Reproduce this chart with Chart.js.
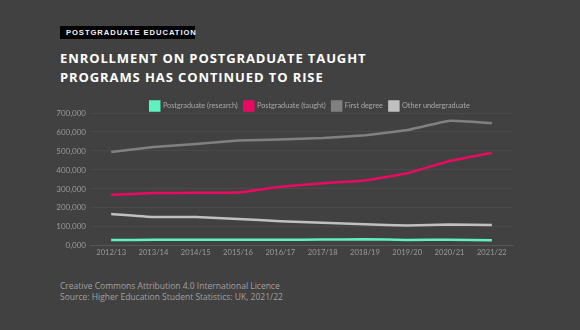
<!DOCTYPE html>
<html><head><meta charset="utf-8">
<script src="https://cdn.jsdelivr.net/npm/chart.js@4"></script>
<style>
html,body{margin:0;padding:0;background:#414141;width:580px;height:330px;overflow:hidden;font-family:"Open Sans",sans-serif;}
#badge{position:absolute;left:60px;top:26px;height:13px;width:135px;background:#000;}
#badge span{position:absolute;left:6px;top:0;color:#f4f4f4;font-family:"Liberation Sans",sans-serif;font-size:7.6px;font-weight:700;letter-spacing:0.95px;line-height:13px;white-space:nowrap;}
#title{position:absolute;left:60px;top:49px;color:#fff;font-size:13px;font-weight:700;letter-spacing:0.9px;line-height:19px;}
#foot{position:absolute;left:60px;top:280px;color:#a0a0a0;font-size:8.5px;line-height:11px;}
#wrap{position:absolute;left:40px;top:95px;width:540px;height:164px;}
</style></head><body>
<div id="badge"><span>POSTGRADUATE EDUCATION</span></div>
<div id="title">ENROLLMENT ON POSTGRADUATE TAUGHT<br>PROGRAMS HAS CONTINUED TO RISE</div>
<div id="wrap"><canvas id="c"></canvas></div>
<div id="foot">Creative Commons Attribution 4.0 International Licence<br>Source: Higher Education Student Statistics: UK, 2021/22</div>
<script>
const categories=["2012/13","2013/14","2014/15","2015/16","2016/17","2017/18","2018/19","2019/20","2020/21","2021/22"];
const pgResearch=[31000,32000,32500,32000,32500,33000,35000,31000,32500,30000];
const pgTaught=[269000,278000,280000,281000,312000,330000,345000,383000,447000,491000];
const firstDegree=[495000,521000,537000,555000,561000,568000,583000,610000,659000,647000];
const otherUG=[168000,152000,152000,142000,130000,122000,114000,107000,112000,110000];
const yTicks=[0,100000,200000,300000,400000,500000,600000,700000];

function ds(label,data,color){return {label,data,borderColor:color,backgroundColor:color,borderWidth:2.5,pointRadius:0,tension:0.1};}
const legendHeight={id:'legendHeight',afterInit(chart){const L=chart.legend;if(!L)return;const of=L.fit.bind(L);L.fit=function(){of();this.height=18;};}};
new Chart(document.getElementById('c'),{
type:'line',
data:{labels:categories,datasets:[
ds('Postgraduate (research)',pgResearch,'#5ef2c0'),
ds('Postgraduate (taught)',pgTaught,'#ea0a62'),
ds('First degree',firstDegree,'#808080'),
ds('Other undergraduate',otherUG,'#c0c0c0')]},
plugins:[legendHeight],
options:{responsive:true,maintainAspectRatio:false,animation:false,
layout:{padding:0},
plugins:{legend:{labels:{boxWidth:9,boxHeight:9,padding:6.5,color:'#a8a8a8',font:{family:'Lato',size:7.3}},padding:0},tooltip:{enabled:false}},
scales:{
x:{offset:true,grid:{display:false,drawTicks:false},border:{color:'#575757'},ticks:{color:'#9a9a9a',font:{family:'Lato',size:7.6},maxRotation:0,padding:2}},
y:{min:0,max:700000,afterBuildTicks:(s)=>{s.ticks=yTicks.map(v=>({value:v}));},afterFit:(s)=>{s.width=50;},
grid:{color:'rgba(255,255,255,0.05)',drawTicks:false},border:{display:false},
ticks:{color:'#9a9a9a',font:{family:'Lato',size:8},padding:4,callback:(v)=>v===0?'0,000':v.toLocaleString('en-US')}},
yR:{position:'right',display:true,min:0,max:1,afterFit:(s)=>{s.width=67;},grid:{display:false,drawOnChartArea:false},border:{display:false},ticks:{display:false}}}}
});
</script></body></html>
